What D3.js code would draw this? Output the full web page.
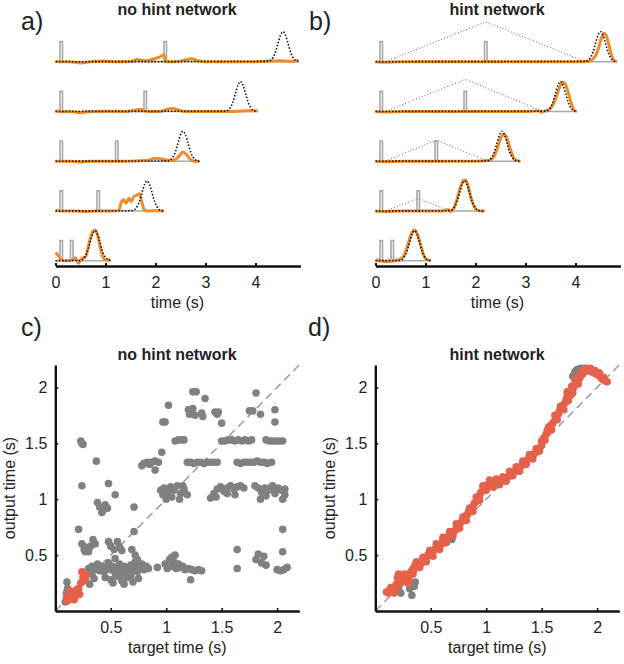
<!DOCTYPE html>
<html><head><meta charset="utf-8">
<script src="https://cdn.jsdelivr.net/npm/d3@7"></script>
<style>
body{margin:0;background:#fff}
svg text{font-family:"Liberation Sans",Arial,Helvetica,sans-serif;fill:#222}
</style>
</head><body>
<svg id="chart" width="624" height="664"></svg>
<script>
// ---------------- DATA ----------------
const timeTicks = [0, 1, 2, 3, 4];
const scatterTicks = [0.5, 1, 1.5, 2];
const pulseHeight = 0.67;
const pulseWidth = 0.05;

// Gaussian target template (offset in s, relative value)
const targetOffsets = [-0.3,-0.25,-0.2,-0.15,-0.1,-0.05,0,0.05,0.1,0.15,0.2,0.25,0.3];
const targetShape   = [0.01,0.04,0.14,0.32,0.61,0.88,1,0.88,0.61,0.32,0.14,0.04,0.01];

// Panel a: no hint network
const pulse1A = [0.09, 0.09, 0.09, 0.09, 0.09];
const pulse2A = [2.17, 1.77, 1.20, 0.83, 0.30];
const targetPeakA = [4.55, 3.70, 2.55, 1.83, 0.79];
const trialEndA = [4.86, 4.04, 2.88, 2.17, 1.10];
const outputA1 = [[0,0.02],[0.1,0],[0.3,0],[0.5,-0.04],[0.7,0],[1.0,0.02],[1.2,0],[1.5,0.01],[1.65,0.07],[1.8,0.03],[1.95,0.08],[2.1,0.17],[2.17,0.22],[2.22,0],[2.4,0],[2.6,0.06],[2.72,0.1],[2.85,0.03],[3.0,0],[3.5,0],[4.0,0],[4.3,0.02],[4.5,0.03],[4.7,0.01],[4.86,0.05]];
const outputA2 = [[0,0.02],[0.1,0],[0.3,0],[0.5,-0.04],[0.7,0],[1.0,0.01],[1.4,0],[1.6,0.05],[1.7,0.07],[1.78,0.02],[1.9,0],[2.1,0],[2.25,0.08],[2.35,0.1],[2.48,0.03],[2.6,0],[3.0,0],[3.5,0],[3.8,0.02],[4.04,0.02]];
const outputA3 = [[0,0],[0.3,0],[0.5,-0.03],[0.7,0],[1.0,0],[1.3,0],[1.6,0.01],[1.85,0.03],[1.98,0.1],[2.1,0.08],[2.25,0.03],[2.38,0.04],[2.47,0.17],[2.55,0.31],[2.63,0.2],[2.72,0.03],[2.8,0],[2.88,0]];
const outputA4 = [[0,0.02],[0.1,0],[0.4,0],[0.6,-0.02],[0.8,0],[1.0,0],[1.2,0],[1.27,0.02],[1.31,0.26],[1.36,0.37],[1.41,0.26],[1.47,0.42],[1.51,0.31],[1.57,0.48],[1.63,0.53],[1.68,0.57],[1.73,0.27],[1.78,0.03],[1.85,0],[2.0,0.01],[2.17,0]];
const outputA5 = [[0,0.27],[0.04,0.2],[0.08,0.1],[0.13,0.02],[0.2,0],[0.3,0],[0.4,0.1],[0.46,-0.08],[0.53,0.08],[0.6,0.12],[0.67,0.58],[0.73,0.92],[0.79,1.02],[0.85,0.8],[0.9,0.41],[0.96,0.08],[1.02,0.02],[1.1,0.04]];

// Panel b: hint network
const pulse1B = [0.09, 0.09, 0.09, 0.09, 0.09];
const pulse2B = [2.18, 1.77, 1.19, 0.83, 0.31];
const targetPeakB = [4.50, 3.70, 2.53, 1.78, 0.78];
const trialEndB = [4.83, 4.03, 2.90, 2.18, 1.11];
const hintStartB = [0.2, 0.2, 0.2, 0.2, 0.2];
const hintPeakB = [1.33, 1.07, 0.70, 0.42, 0.13];
const hintEndB = [4.2, 3.35, 2.25, 1.47, 0.5];
const outputB1 = [[0,0],[0.2,-0.02],[0.5,0],[1,0],[2,0],[3,0],[4,0],[4.25,0.01],[4.32,0.05],[4.4,0.2],[4.47,0.5],[4.52,0.8],[4.57,0.95],[4.62,0.85],[4.67,0.55],[4.72,0.22],[4.77,0.05],[4.83,0]];
const outputB2 = [[0,0],[0.2,-0.02],[0.5,0],[1,0],[2,0],[3,0],[3.25,0.02],[3.32,-0.03],[3.4,0.02],[3.47,0.05],[3.55,0.22],[3.62,0.5],[3.68,0.8],[3.75,0.97],[3.8,0.9],[3.86,0.6],[3.92,0.25],[3.97,0.05],[4.03,0]];
const outputB3 = [[0,0],[0.2,-0.02],[0.5,0],[1,0],[1.5,0],[2,0],[2.25,0.02],[2.33,0.08],[2.4,0.25],[2.46,0.55],[2.52,0.82],[2.57,0.9],[2.62,0.8],[2.68,0.5],[2.74,0.2],[2.8,0.04],[2.9,0]];
const outputB4 = [[0,0],[0.2,-0.02],[0.5,0],[1,0],[1.35,0],[1.45,0.05],[1.5,-0.02],[1.57,0.1],[1.63,0.4],[1.7,0.8],[1.76,1.02],[1.8,1.03],[1.85,0.85],[1.9,0.5],[1.96,0.2],[2.02,0.04],[2.1,0],[2.18,0.01]];
const outputB5 = [[0,0.03],[0.1,0],[0.2,-0.03],[0.3,-0.02],[0.4,0],[0.5,0.05],[0.58,0.2],[0.65,0.55],[0.72,0.9],[0.78,1.02],[0.84,0.88],[0.9,0.55],[0.96,0.2],[1.02,0.04],[1.11,0]];

// Panel c: no hint network scatter (target time, output time)
const noHintGrey = [
[1.24,1.96],[1.27,1.96],[1.81,1.95],[1.35,1.90],[1.02,1.84],
[1.20,1.80],[1.22,1.78],[1.24,1.81],[1.21,1.76],[1.26,1.75],
[1.32,1.77],[1.33,1.74],[1.44,1.78],[1.47,1.78],[1.46,1.76],[1.50,1.68],
[1.75,1.79],[1.78,1.79],[1.85,1.76],[1.98,1.80],[1.98,1.69],
[0.97,1.69],[0.99,1.69],
[0.23,1.52],[0.24,1.50],[0.25,1.49],[0.37,1.34],
[1.08,1.52],[1.11,1.53],[1.14,1.53],[1.16,1.53],
[1.50,1.52],[1.53,1.52],[1.56,1.53],[1.59,1.53],[1.62,1.52],[1.65,1.53],[1.68,1.52],[1.71,1.53],[1.74,1.52],[1.77,1.53],
[1.90,1.53],[1.93,1.52],[1.96,1.52],[1.99,1.52],[2.02,1.52],[2.05,1.52],
[0.78,1.30],[0.80,1.32],[0.83,1.33],[0.85,1.31],[0.87,1.33],[0.90,1.34],[0.93,1.33],[0.96,1.42],[0.90,1.26],
[1.19,1.33],[1.22,1.33],[1.25,1.32],[1.28,1.33],[1.31,1.33],[1.34,1.32],[1.37,1.33],[1.40,1.33],[1.43,1.33],[1.46,1.33],
[1.64,1.33],[1.67,1.32],[1.70,1.33],[1.73,1.33],[1.76,1.33],[1.79,1.33],[1.82,1.34],[1.85,1.33],
[1.88,1.33],[1.91,1.32],[1.95,1.33],
[0.24,1.12],[0.48,1.14],
[0.95,1.08],[0.98,1.10],[1.01,1.06],[1.04,1.11],[1.07,1.08],[1.10,1.12],[1.13,1.05],[1.16,1.09],[1.19,1.04],[1.00,1.00],[1.05,1.02],[1.12,1.00],[0.97,1.04],[1.15,1.12],[1.03,1.09],
[1.40,1.01],[1.43,1.05],[1.46,1.09],[1.49,1.11],[1.52,1.07],[1.55,1.10],[1.58,1.12],[1.61,1.09],[1.64,1.11],[1.67,1.12],[1.70,1.10],[1.45,1.02],[1.55,1.05],[1.62,1.04],
[1.80,1.12],[1.83,1.10],[1.86,1.06],[1.89,1.10],[1.92,1.08],[1.95,1.11],[1.98,1.05],[2.01,1.10],[2.04,1.08],[2.07,1.09],[1.85,1.00],[1.90,1.03],[2.05,1.00],[2.07,1.04],[1.96,1.12],
[0.54,1.04],
[0.38,0.97],[0.40,0.93],[0.43,0.90],[0.45,0.95],[0.47,0.92],[0.42,0.88],
[0.71,0.93],[0.21,0.73],[0.71,0.71],[2.05,0.73],
[0.24,0.60],[0.26,0.55],[0.28,0.57],[0.30,0.53],[0.32,0.58],[0.34,0.64],[0.36,0.60],[0.27,0.53],
[0.48,0.62],[0.50,0.58],[0.53,0.55],[0.56,0.62],[0.58,0.57],[0.60,0.54],[0.54,0.47],
[0.69,0.55],[0.72,0.50],[0.74,0.46],[0.76,0.42],[0.70,0.40],
[0.30,0.38],[0.33,0.40],[0.36,0.37],[0.38,0.42],[0.40,0.36],[0.42,0.40],[0.44,0.35],[0.46,0.39],[0.48,0.43],[0.50,0.37],[0.52,0.40],[0.54,0.34],[0.56,0.38],[0.58,0.42],[0.60,0.36],[0.62,0.40],[0.64,0.33],[0.66,0.37],[0.68,0.41],[0.70,0.36],[0.72,0.39],[0.74,0.35],[0.76,0.38],[0.78,0.42],[0.80,0.37],[0.82,0.40],[0.84,0.38],
[0.45,0.30],[0.50,0.28],[0.55,0.31],[0.60,0.27],[0.65,0.30],[0.70,0.26],[0.75,0.29],[0.52,0.25],[0.62,0.24],[0.68,0.31],[0.58,0.32],[0.72,0.44],
[0.33,0.33],[0.35,0.29],[0.31,0.24],
[0.92,0.39],
[0.99,0.42],[1.01,0.38],[1.03,0.46],[1.05,0.40],[1.07,0.44],[1.09,0.38],[1.11,0.42],[1.13,0.39],[1.15,0.40],[1.17,0.37],[1.20,0.38],[1.23,0.37],[1.26,0.36],[1.29,0.37],[1.32,0.36],[1.05,0.48],[1.08,0.50],
[1.22,0.28],
[1.64,0.55],[1.64,0.38],[1.81,0.46],[1.83,0.51],[1.86,0.43],[1.88,0.49],[1.90,0.41],
[2.05,0.53],[2.00,0.37],[2.03,0.36],[2.06,0.37],[2.09,0.39],
[0.105,0.26],[0.09,0.08],[0.12,0.12],[0.10,0.16],[0.11,0.20]
];
const noHintRed = [
[0.24,0.35],[0.26,0.33],[0.25,0.30],[0.27,0.28],[0.28,0.32],[0.26,0.27],[0.23,0.25],
[0.10,0.12],[0.12,0.14],[0.14,0.11],[0.16,0.16],[0.18,0.13],[0.20,0.17],[0.22,0.15],[0.13,0.18],[0.17,0.10],[0.21,0.20],[0.19,0.19],[0.15,0.14],[0.11,0.09]
];

// Panel d: hint network scatter
const hintGrey = [
[1.78,2.10],[1.80,2.14],[1.82,2.16],[1.85,2.17],[1.88,2.17],[1.80,2.07],[1.83,2.12],
[0.23,0.16],[0.33,0.14],[0.36,0.26],[0.35,0.22],[0.31,0.20],[0.69,0.64],[0.21,0.20]
];
const hintRed = [
[0.10,0.17],[0.12,0.16],[0.13,0.19],[0.15,0.18],[0.16,0.21],[0.18,0.20],[0.19,0.24],[0.20,0.30],[0.21,0.33],[0.22,0.28],[0.23,0.31],[0.24,0.26],[0.25,0.29],[0.26,0.27],[0.27,0.30],[0.28,0.26],[0.29,0.31],[0.30,0.29],[0.31,0.33],[0.32,0.35],[0.33,0.34],[0.34,0.38],[0.35,0.37],[0.36,0.41],[0.38,0.40],[0.39,0.43],[0.41,0.44],[0.42,0.43],[0.44,0.47],[0.45,0.46],[0.47,0.49],[0.48,0.51],[0.50,0.50],[0.52,0.53],[0.53,0.55],[0.55,0.56],[0.56,0.58],[0.58,0.58],[0.60,0.60],[0.61,0.63],[0.63,0.65],[0.64,0.64],[0.66,0.67],[0.68,0.68],[0.70,0.70],[0.72,0.72],[0.73,0.74],[0.75,0.76],[0.76,0.78],[0.78,0.80],[0.80,0.82],[0.81,0.85],[0.83,0.86],[0.84,0.89],[0.86,0.90],[0.88,0.93],[0.89,0.96],[0.91,0.98],[0.92,1.01],[0.94,1.03],[0.95,1.06],[0.97,1.08],[0.98,1.10],[1.00,1.12],[1.02,1.13],[1.04,1.14],[1.06,1.14],[1.08,1.14],[1.10,1.15],[1.12,1.16],[1.14,1.16],[1.16,1.17],[1.18,1.19],[1.20,1.20],[1.22,1.22],[1.24,1.24],[1.26,1.25],[1.28,1.27],[1.30,1.28],[1.32,1.30],[1.34,1.32],[1.36,1.34],[1.38,1.36],[1.40,1.38],[1.42,1.39],[1.44,1.41],[1.46,1.43],[1.48,1.46],[1.50,1.48],[1.51,1.52],[1.52,1.55],[1.54,1.58],[1.55,1.61],[1.57,1.63],[1.58,1.66],[1.60,1.68],[1.62,1.71],[1.63,1.74],[1.65,1.76],[1.66,1.79],[1.68,1.81],[1.69,1.84],[1.71,1.86],[1.72,1.89],[1.73,1.92],[1.75,1.94],[1.76,1.93],[1.78,1.98],[1.79,2.00],[1.80,2.03],[1.82,2.05],[1.84,2.08],[1.85,2.10],[1.87,2.12],[1.89,2.14],[1.91,2.15],[1.93,2.15],[1.95,2.14],[1.97,2.13],[1.99,2.12],[2.01,2.11],[2.03,2.09],[2.05,2.07],[2.07,2.06],[2.09,2.05],
[0.14,0.21],[0.17,0.16],[0.22,0.24],[0.26,0.33],[0.30,0.25],[0.34,0.33],[0.37,0.44],[0.40,0.39],[0.43,0.48],[0.46,0.44],[0.49,0.54],[0.52,0.49],[0.55,0.60],[0.58,0.55],[0.61,0.66],[0.64,0.61],[0.67,0.71],[0.70,0.67],[0.73,0.78],[0.76,0.74],[0.79,0.84],[0.82,0.81],[0.85,0.92],[0.88,0.89],[0.91,1.02],[0.94,0.99],[0.97,1.12],[1.00,1.08],[1.03,1.17],[1.06,1.11],[1.09,1.18],[1.12,1.13],[1.15,1.20],[1.18,1.16],[1.21,1.25],[1.24,1.21],[1.27,1.29],[1.30,1.25],[1.33,1.34],[1.36,1.31],[1.39,1.40],[1.42,1.36],[1.45,1.45],[1.48,1.43],[1.50,1.52],[1.53,1.53],[1.56,1.64],[1.59,1.62],[1.62,1.75],[1.64,1.71],[1.67,1.83],[1.70,1.80],[1.73,1.96],[1.74,1.88],[1.77,2.01],[1.78,1.95],[1.81,2.08],[1.83,2.03],[1.86,2.14],[1.90,2.17],[1.94,2.17],[1.98,2.15],[2.02,2.13],[2.06,2.09]
];

// ---------------- DRAWING ----------------
const svg = d3.select('#chart');
const ORANGE = '#EE8C2C', GREY_IN = '#a8a8a8', DOT_GREY = '#808080', RED = '#E6614A';

function panelLabel(txt, x, y) {
  svg.append('text').attr('x', x).attr('y', y).attr('font-size', 25).text(txt);
}
function title(txt, x, y) {
  svg.append('text').attr('x', x).attr('y', y).attr('text-anchor', 'middle')
     .attr('font-size', 16).attr('font-weight', 'bold').attr('fill', '#111').text(txt);
}

function tracePanel(opts) {
  const x = d3.scaleLinear().domain([0, 4.9]).range([opts.x0, opts.x0 + 245]);
  const rowPos = d3.scalePoint().domain(d3.range(5)).range([61.7, 260.7]);
  const g = svg.append('g');
  for (let i = 0; i < 5; i++) {
    const y = d3.scaleLinear().domain([0, 1]).range([rowPos(i), rowPos(i) - 30]);
    const lin = d3.line().x(d => x(d[0])).y(d => y(d[1]));
    const smooth = d3.line().x(d => x(d[0])).y(d => y(d[1])).curve(d3.curveMonotoneX);
    const p1 = opts.p1[i], p2 = opts.p2[i], end = opts.end[i];
    const input = [[0,0],[p1,0],[p1,pulseHeight],[p1+pulseWidth,pulseHeight],[p1+pulseWidth,0],
                   [p2,0],[p2,pulseHeight],[p2+pulseWidth,pulseHeight],[p2+pulseWidth,0],[end,0]];
    g.append('path').attr('d', lin(input)).attr('fill', 'none')
      .attr('stroke', GREY_IN).attr('stroke-width', 1.6);
    if (opts.hintPeak) {
      const hint = [[opts.hintStart[i],0],[p2 + pulseWidth/2, opts.hintPeak[i]],[opts.hintEnd[i],0]];
      g.append('path').attr('d', lin(hint)).attr('fill', 'none')
        .attr('stroke', '#666').attr('stroke-width', 1).attr('stroke-dasharray', '1,2');
    }
    g.append('path').attr('d', smooth(opts.out[i])).attr('fill', 'none')
      .attr('stroke', ORANGE).attr('stroke-width', 3).attr('stroke-linejoin', 'round');
    const pk = opts.peak[i];
    const tgt = [[0,0]].concat(targetOffsets.map((o, k) => [pk + o, targetShape[k]]).filter(d => d[0] <= end));
    if (tgt[tgt.length-1][0] < end) tgt.push([end, 0]);
    g.append('path').attr('d', smooth(tgt)).attr('fill', 'none')
      .attr('stroke', '#111').attr('stroke-width', 1.6).attr('stroke-dasharray', '1.5,1.8');
  }
  const ax = svg.append('g').attr('transform', 'translate(0,266)')
    .call(d3.axisBottom(x).tickValues(timeTicks).tickSizeInner(-3).tickSizeOuter(0).tickFormat(d3.format('d')));
  ax.select('.domain').attr('stroke', '#111').attr('stroke-width', 2.6);
  ax.selectAll('.tick line').attr('stroke', '#111').attr('stroke-width', 2);
  ax.selectAll('.tick text').attr('y', 11).attr('font-size', 16).attr('font-family', '"Liberation Sans",Arial,sans-serif').attr('fill', '#222');
  svg.append('text').attr('x', opts.x0 + 122).attr('y', 308).attr('text-anchor', 'middle')
     .attr('font-size', 16).text('time (s)');
}

tracePanel({x0: 55.5, p1: pulse1A, p2: pulse2A, peak: targetPeakA, end: trialEndA,
  out: [outputA1, outputA2, outputA3, outputA4, outputA5]});
tracePanel({x0: 375.5, p1: pulse1B, p2: pulse2B, peak: targetPeakB, end: trialEndB,
  out: [outputB1, outputB2, outputB3, outputB4, outputB5],
  hintStart: hintStartB, hintPeak: hintPeakB, hintEnd: hintEndB});

function scatterPanel(opts) {
  const x = d3.scaleLinear().domain([0, 2.2]).range([opts.x0, opts.x0 + 244]);
  const y = d3.scaleLinear().domain([0, 2.2]).range([611, 365]);
  const g = svg.append('g');
  g.append('line').attr('x1', x(0)).attr('y1', y(0)).attr('x2', x(2.2)).attr('y2', y(2.2))
    .attr('stroke', '#9a9a9a').attr('stroke-width', 1.5).attr('stroke-dasharray', '8,5');
  g.selectAll('.grey').data(opts.grey).enter().append('circle')
    .attr('cx', d => x(d[0])).attr('cy', d => y(d[1])).attr('r', 3.8).attr('fill', DOT_GREY);
  g.selectAll('.red').data(opts.red).enter().append('circle')
    .attr('cx', d => x(d[0])).attr('cy', d => y(d[1])).attr('r', 3.8).attr('fill', RED);
  const axb = svg.append('g').attr('transform', 'translate(0,611)')
    .call(d3.axisBottom(x).tickValues(scatterTicks).tickSizeInner(-3).tickSizeOuter(0).tickFormat(d3.format('')));
  const axl = svg.append('g').attr('transform', `translate(${opts.x0},0)`)
    .call(d3.axisLeft(y).tickValues(scatterTicks).tickSizeInner(-3).tickSizeOuter(0).tickFormat(d3.format('')));
  [axb, axl].forEach(a => {
    a.select('.domain').attr('stroke', '#111').attr('stroke-width', 2.4);
    a.selectAll('.tick line').attr('stroke', '#111').attr('stroke-width', 1.6);
    a.selectAll('.tick text').attr('font-size', 16).attr('font-family', '"Liberation Sans",Arial,sans-serif').attr('fill', '#222');
  });
  axb.selectAll('.tick text').attr('y', 11);
  axl.selectAll('.tick text').attr('x', -8);
  svg.append('text').attr('x', opts.x0 + 122).attr('y', 653).attr('text-anchor', 'middle')
     .attr('font-size', 16).text('target time (s)');
  svg.append('text').attr('transform', `translate(${opts.x0 - 40},488) rotate(-90)`)
     .attr('text-anchor', 'middle').attr('font-size', 16).text('output time (s)');
}

scatterPanel({x0: 55.3, grey: noHintGrey, red: noHintRed});
scatterPanel({x0: 375.3, grey: hintGrey, red: hintRed});

panelLabel('a)', 21, 30);
panelLabel('b)', 309, 30);
panelLabel('c)', 21, 336);
panelLabel('d)', 308, 336);
title('no hint network', 177, 15);
title('hint network', 497, 15);
title('no hint network', 177, 360);
title('hint network', 497, 360);
</script>
</body></html>
